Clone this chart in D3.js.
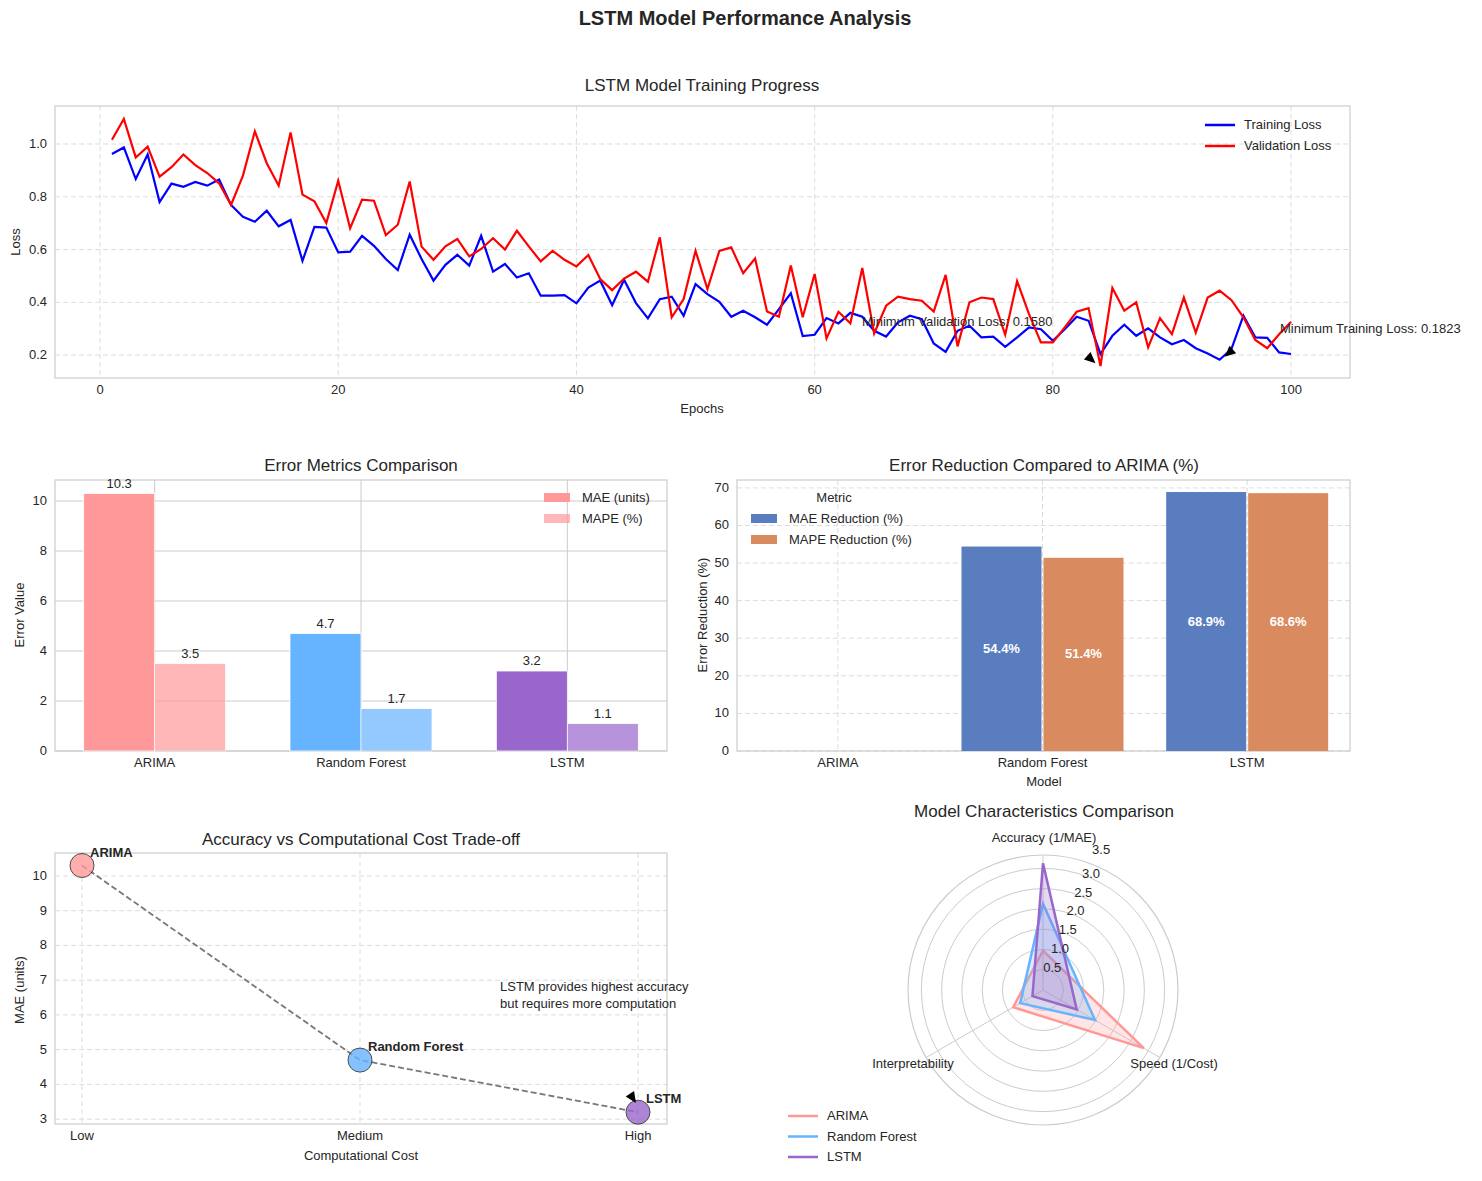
<!DOCTYPE html>
<html><head><meta charset="utf-8">
<script src="https://cdn.jsdelivr.net/npm/d3@7"></script>
<style>body{margin:0;background:#fff}text{font-family:"Liberation Sans",Arial,sans-serif;fill:#262626}</style>
</head><body><svg id="c" width="1482" height="1181"></svg>
<script>
const trainLoss=[0.962,0.987,0.867,0.96,0.78,0.85,0.838,0.856,0.842,0.865,0.769,0.724,0.705,0.747,0.688,0.712,0.557,0.686,0.683,0.589,0.592,0.652,0.614,0.564,0.522,0.656,0.564,0.482,0.542,0.58,0.539,0.652,0.516,0.545,0.494,0.51,0.425,0.425,0.427,0.396,0.456,0.482,0.389,0.485,0.397,0.339,0.412,0.421,0.349,0.469,0.431,0.402,0.345,0.368,0.343,0.315,0.374,0.434,0.272,0.277,0.34,0.32,0.36,0.345,0.292,0.27,0.324,0.349,0.336,0.244,0.212,0.292,0.311,0.267,0.27,0.231,0.267,0.305,0.298,0.254,0.298,0.345,0.33,0.204,0.273,0.315,0.273,0.301,0.267,0.241,0.257,0.226,0.206,0.1823,0.223,0.349,0.267,0.265,0.21,0.204];
const valLoss=[1.016,1.095,0.949,0.99,0.876,0.912,0.96,0.92,0.89,0.851,0.769,0.88,1.048,0.927,0.842,1.044,0.808,0.783,0.7,0.861,0.681,0.789,0.785,0.655,0.694,0.858,0.611,0.561,0.612,0.64,0.574,0.602,0.643,0.6,0.671,0.612,0.555,0.595,0.561,0.536,0.579,0.488,0.446,0.49,0.516,0.478,0.646,0.343,0.412,0.595,0.45,0.595,0.608,0.51,0.566,0.365,0.345,0.539,0.343,0.507,0.263,0.364,0.32,0.53,0.282,0.387,0.421,0.412,0.406,0.365,0.504,0.233,0.4,0.418,0.412,0.277,0.48,0.355,0.248,0.248,0.305,0.364,0.378,0.158,0.454,0.368,0.4,0.229,0.34,0.279,0.418,0.285,0.418,0.444,0.408,0.343,0.257,0.226,0.279,0.326];
const models=["ARIMA","Random Forest","LSTM"];
const maeVals=[10.3,4.7,3.2];
const mapeVals=[3.5,1.7,1.1];
const maeRed=[0,54.4,68.9];
const mapeRed=[0,51.4,68.6];
const costLabels=["Low","Medium","High"];
const radarAxes=["Accuracy (1/MAE)","Speed (1/Cost)","Interpretability"];
const radarVals=[[0.97,2.87,0.85],[2.13,1.48,0.65],[3.125,0.96,0.3]];
const modelColors=["#ff9999","#66b3ff","#9966cc"];

const svg=d3.select("#c");
const grid="#dddddd";
function frame(x0,y0,x1,y1){svg.append("rect").attr("x",x0).attr("y",y0).attr("width",x1-x0).attr("height",y1-y0).attr("fill","none").attr("stroke","#cccccc").attr("stroke-width",1.2);}
function txt(x,y,s,o={}){const t=svg.append("text").attr("x",x).attr("y",y).text(s).attr("font-size",o.size||13).attr("text-anchor",o.anchor||"middle");if(o.weight)t.attr("font-weight",o.weight);if(o.rot)t.attr("transform",`rotate(-90,${x},${y})`);if(o.fill)t.style("fill",o.fill);return t;}
function yAxis(sc,x,ticks,fmt){ticks.forEach(v=>txt(x-8,sc(v)+4,fmt(v),{anchor:"end"}));}
txt(745,25,"LSTM Model Performance Analysis",{size:20,weight:"bold"});

// ---- Top line chart
{const X=d3.scaleLinear().domain([-3.78,104.95]).range([55,1350]);
const Y=d3.scaleLinear().domain([0.113,1.144]).range([378,106]);
const g=svg.append("g");
[0,20,40,60,80,100].forEach(v=>g.append("line").attr("x1",X(v)).attr("x2",X(v)).attr("y1",106).attr("y2",378).attr("stroke",grid).attr("stroke-dasharray","5,3"));
[0.2,0.4,0.6,0.8,1.0].forEach(v=>g.append("line").attr("x1",55).attr("x2",1350).attr("y1",Y(v)).attr("y2",Y(v)).attr("stroke",grid).attr("stroke-dasharray","5,3"));
frame(55,106,1350,378);
[0,20,40,60,80,100].forEach(v=>txt(X(v),394,v));
yAxis(Y,55,[0.2,0.4,0.6,0.8,1.0],d3.format(".1f"));
const line=d3.line().x((d,i)=>X(i+1)).y(d=>Y(d));
g.append("path").datum(trainLoss).attr("d",line).attr("fill","none").attr("stroke","#0000ff").attr("stroke-width",2.2);
g.append("path").datum(valLoss).attr("d",line).attr("fill","none").attr("stroke","#ff0000").attr("stroke-width",2.2);
txt(702,91,"LSTM Model Training Progress",{size:17});
txt(702,413,"Epochs");txt(20,242,"Loss",{rot:1});
[["Training Loss","#0000ff",125],["Validation Loss","#ff0000",146]].forEach(([s,c,y])=>{svg.append("line").attr("x1",1205).attr("x2",1235).attr("y1",y).attr("y2",y).attr("stroke",c).attr("stroke-width",2.5);txt(1244,y+4,s,{anchor:"start"});});
// annotations
const iv=d3.minIndex(valLoss), it=d3.minIndex(trainLoss);
function arrow(x1,y1,x2,y2){const a=Math.atan2(y2-y1,x2-x1),L=11,W=5;svg.append("path").attr("d",`M${x2},${y2}L${x2-L*Math.cos(a)+W*Math.sin(a)},${y2-L*Math.sin(a)-W*Math.cos(a)}L${x2-L*Math.cos(a)-W*Math.sin(a)},${y2-L*Math.sin(a)+W*Math.cos(a)}Z`).attr("fill","#000");}
arrow(X(iv+1)-22,Y(valLoss[iv])-18,X(iv+1)-5,Y(valLoss[iv])-3);
txt(862,326,"Minimum Validation Loss: "+valLoss[iv].toFixed(4),{anchor:"start"});
arrow(X(it+1)+22,Y(trainLoss[it])-18,X(it+1)+5,Y(trainLoss[it])-3);
txt(1280,333,"Minimum Training Loss: "+trainLoss[it].toFixed(4),{anchor:"start"});
}

// ---- Error metrics
{const x0=55,x1=667,y0=480,y1=751;
const X=d3.scaleBand().domain(models).range([51.5,670.5]);
const Y=d3.scaleLinear().domain([0,10.84]).range([y1,y0]);
[0,2,4,6,8,10].forEach(v=>svg.append("line").attr("x1",x0).attr("x2",x1).attr("y1",Y(v)).attr("y2",Y(v)).attr("stroke","#cccccc"));
models.forEach(m=>svg.append("line").attr("x1",X(m)+X.bandwidth()/2).attr("x2",X(m)+X.bandwidth()/2).attr("y1",y0).attr("y2",y1).attr("stroke","#cccccc"));
frame(x0,y0,x1,y1);
const bw=71;
models.forEach((m,i)=>{const c=X(m)+X.bandwidth()/2;
 svg.append("rect").attr("x",c-bw).attr("y",Y(maeVals[i])).attr("width",bw).attr("height",y1-Y(maeVals[i])).attr("fill",modelColors[i]).attr("stroke","#fff").attr("stroke-width",0.8);
 svg.append("rect").attr("x",c).attr("y",Y(mapeVals[i])).attr("width",bw).attr("height",y1-Y(mapeVals[i])).attr("fill",modelColors[i]).attr("opacity",0.7).attr("stroke","#fff").attr("stroke-width",0.8);
 txt(c-bw/2,Y(maeVals[i])-6,maeVals[i].toFixed(1));txt(c+bw/2,Y(mapeVals[i])-6,mapeVals[i].toFixed(1));
 txt(c,767,m);});
yAxis(Y,x0,[0,2,4,6,8,10],d3.format("d"));
txt(361,471,"Error Metrics Comparison",{size:17});txt(24,615,"Error Value",{rot:1});
[["MAE (units)",1,498],["MAPE (%)",0.7,519]].forEach(([s,o,y])=>{svg.append("rect").attr("x",544).attr("y",y-5).attr("width",26).attr("height",9).attr("fill","#ff9999").attr("opacity",o);txt(582,y+4,s,{anchor:"start"});});
}

// ---- Error reduction
{const x0=737,x1=1350,y0=480,y1=751;
const X=d3.scaleBand().domain(models).range([735.5,1349.5]);
const Y=d3.scaleLinear().domain([0,72.1]).range([y1,y0]);
[0,10,20,30,40,50,60,70].forEach(v=>svg.append("line").attr("x1",x0).attr("x2",x1).attr("y1",Y(v)).attr("y2",Y(v)).attr("stroke",grid).attr("stroke-dasharray","5,3"));
models.forEach(m=>svg.append("line").attr("x1",X(m)+X.bandwidth()/2).attr("x2",X(m)+X.bandwidth()/2).attr("y1",y0).attr("y2",y1).attr("stroke",grid).attr("stroke-dasharray","5,3"));
frame(x0,y0,x1,y1);
const bw=80;
models.forEach((m,i)=>{const c=X(m)+X.bandwidth()/2;
 [[maeRed[i],"#5a7dbf",c-bw-1],[mapeRed[i],"#d98b5f",c+1]].forEach(([v,col,bx])=>{
  svg.append("rect").attr("x",bx).attr("y",Y(v)).attr("width",bw).attr("height",y1-Y(v)).attr("fill",col);
  if(v>0)txt(bx+bw/2,Y(v/2)+4,v.toFixed(1)+"%",{weight:"bold",fill:"#fff"});});
 txt(c,767,m);});
yAxis(Y,x0,[0,10,20,30,40,50,60,70],d3.format("d"));
txt(1044,471,"Error Reduction Compared to ARIMA (%)",{size:17});txt(1044,786,"Model");txt(707,615,"Error Reduction (%)",{rot:1});
txt(834,502,"Metric");
[["MAE Reduction (%)","#5a7dbf",519],["MAPE Reduction (%)","#d98b5f",540]].forEach(([s,c,y])=>{svg.append("rect").attr("x",751).attr("y",y-5).attr("width",26).attr("height",9).attr("fill",c);txt(789,y+4,s,{anchor:"start"});});
}

// ---- Trade-off
{const x0=55,x1=667,y0=853,y1=1124;
const X=d3.scalePoint().domain(costLabels).range([82,638]);
const Y=d3.scaleLinear().domain([2.86,10.66]).range([y1,y0]);
[3,4,5,6,7,8,9,10].forEach(v=>svg.append("line").attr("x1",x0).attr("x2",x1).attr("y1",Y(v)).attr("y2",Y(v)).attr("stroke",grid).attr("stroke-dasharray","5,3"));
costLabels.forEach(c=>svg.append("line").attr("x1",X(c)).attr("x2",X(c)).attr("y1",y0).attr("y2",y1).attr("stroke",grid).attr("stroke-dasharray","5,3"));
frame(x0,y0,x1,y1);
svg.append("path").datum(maeVals).attr("d",d3.line().x((d,i)=>X(costLabels[i])).y(d=>Y(d))).attr("fill","none").attr("stroke","#777").attr("stroke-width",1.8).attr("stroke-dasharray","6,3");
maeVals.forEach((v,i)=>{svg.append("circle").attr("cx",X(costLabels[i])).attr("cy",Y(v)).attr("r",12).attr("fill",modelColors[i]).attr("opacity",0.8).attr("stroke","#222").attr("stroke-width",1);
 txt(X(costLabels[i])+8,Y(v)-9,models[i],{anchor:"start",weight:"bold"});});
costLabels.forEach(c=>txt(X(c),1140,c));
yAxis(Y,x0,[3,4,5,6,7,8,9,10],d3.format("d"));
txt(361,845,"Accuracy vs Computational Cost Trade-off",{size:17});txt(361,1160,"Computational Cost");txt(24,990,"MAE (units)",{rot:1});
txt(500,991,"LSTM provides highest accuracy",{anchor:"start"});txt(500,1008,"but requires more computation",{anchor:"start"});
arrow(628,1091,636,1103);
}

// ---- Radar
{const cx=1043,cy=990,R=135,rmax=3.33;
const r=d3.scaleLinear().domain([0,rmax]).range([0,R]);
[0.5,1,1.5,2,2.5,3].forEach(v=>svg.append("circle").attr("cx",cx).attr("cy",cy).attr("r",r(v)).attr("fill","none").attr("stroke","#cccccc"));
svg.append("circle").attr("cx",cx).attr("cy",cy).attr("r",R).attr("fill","none").attr("stroke","#cccccc").attr("stroke-width",1.2);
const ang=i=>-Math.PI/2+i*2*Math.PI/3;
radarAxes.forEach((a,i)=>svg.append("line").attr("x1",cx).attr("y1",cy).attr("x2",cx+R*Math.cos(ang(i))).attr("y2",cy+R*Math.sin(ang(i))).attr("stroke","#cccccc"));
radarVals.forEach((vals,k)=>{const pts=vals.map((v,i)=>[cx+r(v)*Math.cos(ang(i)),cy+r(v)*Math.sin(ang(i))]);
 svg.append("path").attr("d","M"+pts.join("L")+"Z").attr("fill",modelColors[k]).attr("fill-opacity",0.25).attr("stroke",modelColors[k]).attr("stroke-width",2.5);});
[0.5,1,1.5,2,2.5,3,3.5].forEach(v=>{const a=-Math.PI/2+Math.PI/8,rr=r(v)+ (v>=3.5?10:4);txt(cx+rr*Math.cos(a),cy+rr*Math.sin(a)+4,v.toFixed(1));});
txt(1044,842,"Accuracy (1/MAE)");txt(1174,1068,"Speed (1/Cost)");txt(913,1068,"Interpretability");
txt(1044,817,"Model Characteristics Comparison",{size:17});
models.forEach((m,i)=>{const y=1116+i*20.5;svg.append("line").attr("x1",788).attr("x2",818).attr("y1",y).attr("y2",y).attr("stroke",modelColors[i]).attr("stroke-width",2.5);txt(827,y+4,m,{anchor:"start"});});
}
</script></body></html>
